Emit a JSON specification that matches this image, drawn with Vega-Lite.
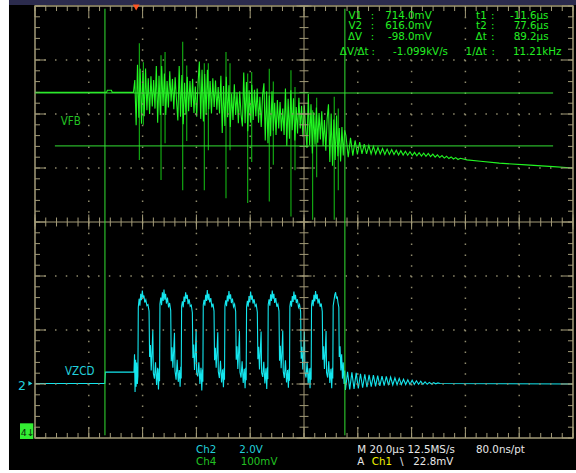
{
"$schema":"https://vega.github.io/schema/vega-lite/v6.json",
"width":538,"height":432,
"autosize":{"type":"none"},
"padding":{"left":35,"top":6,"right":3,"bottom":35},
"background":"#ffffff",
"config":{"view":{"stroke":null},"axis":{"disable":true}},
"datasets":{
"ch4":[{"t":-37.6,"v":2.40},{"t":-11.0,"v":2.40},{"t":-10.7,"v":2.44},{"t":-9.2,"v":2.44},{"t":-8.9,"v":2.40},{"t":-1.0,"v":2.40},
{"t":-0.5,"v":2.63},{"t":0.0,"v":1.79},{"t":0.5,"v":2.91},{"t":1.0,"v":1.93},{"t":1.5,"v":2.84},{"t":2.0,"v":1.82},{"t":2.5,"v":2.77},{"t":3.0,"v":1.96},{"t":3.5,"v":2.84},{"t":4.0,"v":2.07},{"t":4.5,"v":2.66},{"t":5.0,"v":2.00},{"t":5.5,"v":2.70},{"t":6.0,"v":2.14},{"t":6.5,"v":2.63},{"t":7.0,"v":2.10},
{"t":7.5,"v":2.89},{"t":8.0,"v":1.84},{"t":8.5,"v":2.71},{"t":9.0,"v":1.98},{"t":9.5,"v":2.89},{"t":10.0,"v":2.15},{"t":10.5,"v":2.75},{"t":11.0,"v":1.98},{"t":11.5,"v":2.61},{"t":12.0,"v":2.12},{"t":12.5,"v":2.79},{"t":13.0,"v":2.23},{"t":13.5,"v":2.65},{"t":14.0,"v":2.09},{"t":14.5,"v":2.68},{"t":15.0,"v":2.26},
{"t":15.5,"v":1.88},{"t":16.0,"v":2.89},{"t":16.5,"v":1.95},{"t":17.0,"v":2.72},{"t":17.5,"v":1.81},{"t":18.0,"v":2.58},{"t":18.5,"v":1.99},{"t":19.0,"v":2.69},{"t":19.5,"v":2.05},{"t":20.0,"v":2.61},{"t":20.5,"v":2.13},{"t":21.0,"v":2.65},{"t":21.5,"v":2.02},{"t":22.0,"v":2.51},{"t":22.5,"v":1.95},{"t":23.0,"v":2.55},
{"t":23.5,"v":2.97},{"t":24.0,"v":1.91},{"t":24.5,"v":2.82},{"t":25.0,"v":1.86},{"t":25.5,"v":2.74},{"t":26.0,"v":1.99},{"t":26.5,"v":2.82},{"t":27.0,"v":2.09},{"t":27.5,"v":2.61},{"t":28.0,"v":2.01},{"t":28.5,"v":2.66},{"t":29.0,"v":2.13},{"t":29.5,"v":2.62},{"t":30.0,"v":2.08},{"t":30.5,"v":2.50},{"t":31.0,"v":2.01},
{"t":31.5,"v":2.71},{"t":32.0,"v":1.65},{"t":32.5,"v":2.52},{"t":33.0,"v":1.78},{"t":33.5,"v":2.69},{"t":34.0,"v":1.94},{"t":34.5,"v":2.53},{"t":35.0,"v":1.76},{"t":35.5,"v":2.38},{"t":36.0,"v":1.89},{"t":36.5,"v":2.55},{"t":37.0,"v":1.98},{"t":37.5,"v":2.40},{"t":38.0,"v":1.83},{"t":38.5,"v":2.42},{"t":39.0,"v":1.99},
{"t":39.5,"v":1.77},{"t":40.0,"v":2.77},{"t":40.5,"v":1.83},{"t":41.0,"v":2.59},{"t":41.5,"v":1.68},{"t":42.0,"v":2.44},{"t":42.5,"v":1.84},{"t":43.0,"v":2.54},{"t":43.5,"v":1.89},{"t":44.0,"v":2.45},{"t":44.5,"v":1.96},{"t":45.0,"v":2.47},{"t":45.5,"v":1.84},{"t":46.0,"v":2.32},{"t":46.5,"v":1.76},{"t":47.0,"v":2.35},
{"t":47.5,"v":2.57},{"t":48.0,"v":1.51},{"t":48.5,"v":2.42},{"t":49.0,"v":1.46},{"t":49.5,"v":2.34},{"t":50.0,"v":1.59},{"t":50.5,"v":2.42},{"t":51.0,"v":1.69},{"t":51.5,"v":2.21},{"t":52.0,"v":1.61},{"t":52.5,"v":2.26},{"t":53.0,"v":1.73},{"t":53.5,"v":2.22},{"t":54.0,"v":1.68},{"t":54.5,"v":2.10},{"t":55.0,"v":1.61},
{"t":55.5,"v":2.47},{"t":56.0,"v":1.41},{"t":56.5,"v":2.28},{"t":57.0,"v":1.54},{"t":57.5,"v":2.44},{"t":58.0,"v":1.70},{"t":58.5,"v":2.29},{"t":59.0,"v":1.51},{"t":59.5,"v":2.13},{"t":60.0,"v":1.64},{"t":60.5,"v":2.30},{"t":61.0,"v":1.73},{"t":61.5,"v":2.15},{"t":62.0,"v":1.58},{"t":62.5,"v":2.16},{"t":63.0,"v":1.74},
{"t":63.5,"v":1.37},{"t":64.0,"v":2.37},{"t":64.5,"v":1.42},{"t":65.0,"v":2.18},{"t":65.5,"v":1.27},{"t":66.0,"v":2.03},{"t":66.5,"v":1.43},{"t":67.0,"v":2.12},{"t":67.5,"v":1.47},{"t":68.0,"v":2.02},{"t":68.5,"v":1.53},{"t":69.0,"v":2.05},{"t":69.5,"v":1.41},{"t":70.0,"v":1.89},{"t":70.5,"v":1.32},{"t":71.0,"v":1.91},
{"t":71.5,"v":2.18},{"t":72.0,"v":1.11},{"t":72.5,"v":2.01},{"t":73.0,"v":1.04},{"t":73.5,"v":1.90},{"t":74.0,"v":1.15},{"t":74.5,"v":1.97},{"t":75.0,"v":1.22},{"t":75.5,"v":1.74},{"t":76.0,"v":1.12},{"t":76.5,"v":1.76},{"t":77.0,"v":1.23},{"t":77.5,"v":1.70},
{"t":78.0,"v":1.60},{"t":78.85,"v":1.20},{"t":79.7,"v":1.56},{"t":80.55,"v":1.23},{"t":81.4,"v":1.51},{"t":82.25,"v":1.25},{"t":83.1,"v":1.48},{"t":83.95,"v":1.26},{"t":84.8,"v":1.44},{"t":85.65,"v":1.26},{"t":86.5,"v":1.42},{"t":87.35,"v":1.26},{"t":88.2,"v":1.40},{"t":89.05,"v":1.26},{"t":89.9,"v":1.38},{"t":90.75,"v":1.26},{"t":91.6,"v":1.36},{"t":92.45,"v":1.25},{"t":93.3,"v":1.35},{"t":94.15,"v":1.25},{"t":95.0,"v":1.34},{"t":95.85,"v":1.25},{"t":96.7,"v":1.33},{"t":97.55,"v":1.24},{"t":98.4,"v":1.32},{"t":99.25,"v":1.24},{"t":100.1,"v":1.31},{"t":100.95,"v":1.235},{"t":101.8,"v":1.30},{"t":102.65,"v":1.23},{"t":103.5,"v":1.29},{"t":104.35,"v":1.227},{"t":105.2,"v":1.285},{"t":106.05,"v":1.222},{"t":106.9,"v":1.276},{"t":107.75,"v":1.217},{"t":108.6,"v":1.269},{"t":109.45,"v":1.211},{"t":110.3,"v":1.257},{"t":111.15,"v":1.202},{"t":112.0,"v":1.244},{"t":112.85,"v":1.193},{"t":113.7,"v":1.231},{"t":114.55,"v":1.184},{"t":115.4,"v":1.218},{"t":116.25,"v":1.175},{"t":117.1,"v":1.205},{"t":117.95,"v":1.167},{"t":118.8,"v":1.192},{"t":119.65,"v":1.157},{"t":120.5,"v":1.179},
{"t":123,"v":1.150},{"t":128,"v":1.124},{"t":135,"v":1.090},{"t":145,"v":1.057},{"t":155,"v":1.025},{"t":162.4,"v":1.000}],
"ch2":[{"t":-37.6,"v":-2.99},{"t":-11.65,"v":-2.99},{"t":-11.45,"v":-2.78},{"t":-0.8,"v":-2.78},{"t":-0.6,"v":-2.45},{"t":-0.4,"v":-3.15},{"t":-0.2,"v":-2.55},{"t":0.0,"v":-3.05},{"t":0.2,"v":-2.60},{"t":0.45,"v":-3.00},{"t":0.65,"v":-2.85},
{"t":0.80,"v":-1.58},{"t":1.10,"v":-1.42},{"t":1.40,"v":-1.55},{"t":1.70,"v":-1.33},{"t":2.00,"v":-1.45},{"t":2.30,"v":-1.27},{"t":2.60,"v":-1.41},{"t":2.90,"v":-1.36},{"t":3.20,"v":-1.49},{"t":3.60,"v":-1.44},{"t":4.00,"v":-1.55},{"t":4.40,"v":-1.53},{"t":4.80,"v":-1.65},{"t":5.00,"v":-2.50},{"t":5.30,"v":-2.28},{"t":5.60,"v":-2.75},{"t":5.90,"v":-2.42},{"t":6.20,"v":-2.00},{"t":6.40,"v":-2.80},{"t":6.80,"v":-2.90},{"t":7.20,"v":-2.60},{"t":7.60,"v":-3.02},{"t":8.00,"v":-2.70},{"t":8.30,"v":-3.10},{"t":8.55,"v":-2.72},
{"t":8.70,"v":-2.95},{"t":8.85,"v":-1.52},{"t":9.15,"v":-1.40},{"t":9.45,"v":-1.54},{"t":9.75,"v":-1.30},{"t":10.05,"v":-1.46},{"t":10.35,"v":-1.25},{"t":10.65,"v":-1.44},{"t":10.95,"v":-1.33},{"t":11.25,"v":-1.51},{"t":11.65,"v":-1.40},{"t":12.05,"v":-1.58},{"t":12.45,"v":-1.50},{"t":12.85,"v":-1.64},{"t":13.05,"v":-2.58},{"t":13.35,"v":-2.32},{"t":13.65,"v":-2.70},{"t":13.95,"v":-2.38},{"t":14.25,"v":-2.05},{"t":14.45,"v":-2.76},{"t":14.85,"v":-2.92},{"t":15.25,"v":-2.55},{"t":15.65,"v":-2.96},{"t":16.05,"v":-2.74},{"t":16.35,"v":-3.05},{"t":16.60,"v":-2.68},
{"t":16.75,"v":-2.90},{"t":16.90,"v":-1.56},{"t":17.20,"v":-1.47},{"t":17.50,"v":-1.58},{"t":17.80,"v":-1.38},{"t":18.10,"v":-1.48},{"t":18.40,"v":-1.30},{"t":18.70,"v":-1.42},{"t":19.00,"v":-1.35},{"t":19.30,"v":-1.52},{"t":19.70,"v":-1.43},{"t":20.10,"v":-1.56},{"t":20.50,"v":-1.54},{"t":20.90,"v":-1.68},{"t":21.10,"v":-2.52},{"t":21.40,"v":-2.27},{"t":21.70,"v":-2.74},{"t":22.00,"v":-2.43},{"t":22.30,"v":-1.98},{"t":22.50,"v":-2.80},{"t":22.90,"v":-2.86},{"t":23.30,"v":-2.60},{"t":23.70,"v":-3.00},{"t":24.10,"v":-2.70},{"t":24.40,"v":-3.12},{"t":24.65,"v":-2.73},
{"t":24.80,"v":-2.96},{"t":24.95,"v":-1.54},{"t":25.25,"v":-1.44},{"t":25.55,"v":-1.55},{"t":25.85,"v":-1.35},{"t":26.15,"v":-1.46},{"t":26.45,"v":-1.26},{"t":26.75,"v":-1.45},{"t":27.05,"v":-1.33},{"t":27.35,"v":-1.49},{"t":27.75,"v":-1.41},{"t":28.15,"v":-1.58},{"t":28.55,"v":-1.51},{"t":28.95,"v":-1.65},{"t":29.15,"v":-2.56},{"t":29.45,"v":-2.33},{"t":29.75,"v":-2.70},{"t":30.05,"v":-2.41},{"t":30.35,"v":-2.04},{"t":30.55,"v":-2.77},{"t":30.95,"v":-2.89},{"t":31.35,"v":-2.57},{"t":31.75,"v":-2.97},{"t":32.15,"v":-2.73},{"t":32.45,"v":-3.06},{"t":32.70,"v":-2.71},
{"t":32.85,"v":-2.92},{"t":33.00,"v":-1.55},{"t":33.30,"v":-1.45},{"t":33.60,"v":-1.56},{"t":33.90,"v":-1.36},{"t":34.20,"v":-1.47},{"t":34.50,"v":-1.28},{"t":34.80,"v":-1.43},{"t":35.10,"v":-1.34},{"t":35.40,"v":-1.50},{"t":35.80,"v":-1.42},{"t":36.20,"v":-1.57},{"t":36.60,"v":-1.52},{"t":37.00,"v":-1.66},{"t":37.20,"v":-2.55},{"t":37.50,"v":-2.30},{"t":37.80,"v":-2.72},{"t":38.10,"v":-2.40},{"t":38.40,"v":-2.02},{"t":38.60,"v":-2.78},{"t":39.00,"v":-2.88},{"t":39.40,"v":-2.58},{"t":39.80,"v":-2.98},{"t":40.20,"v":-2.72},{"t":40.50,"v":-3.08},{"t":40.75,"v":-2.70},
{"t":40.90,"v":-2.93},{"t":41.05,"v":-1.57},{"t":41.35,"v":-1.46},{"t":41.65,"v":-1.57},{"t":41.95,"v":-1.37},{"t":42.25,"v":-1.49},{"t":42.55,"v":-1.29},{"t":42.85,"v":-1.44},{"t":43.15,"v":-1.36},{"t":43.45,"v":-1.51},{"t":43.85,"v":-1.43},{"t":44.25,"v":-1.56},{"t":44.65,"v":-1.53},{"t":45.05,"v":-1.67},{"t":45.25,"v":-2.54},{"t":45.55,"v":-2.31},{"t":45.85,"v":-2.73},{"t":46.15,"v":-2.39},{"t":46.45,"v":-2.03},{"t":46.65,"v":-2.79},{"t":47.05,"v":-2.87},{"t":47.45,"v":-2.59},{"t":47.85,"v":-2.99},{"t":48.25,"v":-2.71},{"t":48.55,"v":-3.09},{"t":48.80,"v":-2.69},
{"t":48.95,"v":-2.91},{"t":49.10,"v":-1.53},{"t":49.40,"v":-1.43},{"t":49.70,"v":-1.55},{"t":50.00,"v":-1.34},{"t":50.30,"v":-1.46},{"t":50.60,"v":-1.27},{"t":50.90,"v":-1.42},{"t":51.20,"v":-1.33},{"t":51.50,"v":-1.50},{"t":51.90,"v":-1.41},{"t":52.30,"v":-1.57},{"t":52.70,"v":-1.52},{"t":53.10,"v":-1.65},{"t":53.30,"v":-2.57},{"t":53.60,"v":-2.29},{"t":53.90,"v":-2.71},{"t":54.20,"v":-2.42},{"t":54.50,"v":-2.01},{"t":54.70,"v":-2.77},{"t":55.10,"v":-2.89},{"t":55.50,"v":-2.56},{"t":55.90,"v":-2.97},{"t":56.30,"v":-2.74},{"t":56.60,"v":-3.07},{"t":56.85,"v":-2.72},
{"t":57.00,"v":-2.94},{"t":57.15,"v":-1.56},{"t":57.45,"v":-1.46},{"t":57.75,"v":-1.57},{"t":58.05,"v":-1.37},{"t":58.35,"v":-1.48},{"t":58.65,"v":-1.29},{"t":58.95,"v":-1.44},{"t":59.25,"v":-1.35},{"t":59.55,"v":-1.50},{"t":59.95,"v":-1.43},{"t":60.35,"v":-1.58},{"t":60.75,"v":-1.53},{"t":61.15,"v":-1.66},{"t":61.35,"v":-2.53},{"t":61.65,"v":-2.31},{"t":61.95,"v":-2.73},{"t":62.25,"v":-2.40},{"t":62.55,"v":-2.03},{"t":62.75,"v":-2.78},{"t":63.15,"v":-2.88},{"t":63.55,"v":-2.59},{"t":63.95,"v":-2.99},{"t":64.35,"v":-2.71},{"t":64.65,"v":-3.08},{"t":64.90,"v":-2.70},
{"t":65.05,"v":-2.92},{"t":65.20,"v":-1.54},{"t":65.50,"v":-1.44},{"t":65.80,"v":-1.56},{"t":66.10,"v":-1.35},{"t":66.40,"v":-1.47},{"t":66.70,"v":-1.28},{"t":67.00,"v":-1.43},{"t":67.30,"v":-1.34},{"t":67.60,"v":-1.51},{"t":68.00,"v":-1.42},{"t":68.40,"v":-1.57},{"t":68.80,"v":-1.51},{"t":69.20,"v":-1.66},{"t":69.40,"v":-2.55},{"t":69.70,"v":-2.30},{"t":70.00,"v":-2.72},{"t":70.30,"v":-2.41},{"t":70.60,"v":-2.02},{"t":70.80,"v":-2.79},{"t":71.20,"v":-2.88},{"t":71.60,"v":-2.58},{"t":72.00,"v":-2.98},{"t":72.40,"v":-2.72},{"t":72.70,"v":-3.08},{"t":72.95,"v":-2.70},
{"t":73.10,"v":-2.90},{"t":73.25,"v":-1.55},{"t":73.55,"v":-1.45},{"t":73.85,"v":-1.35},{"t":74.15,"v":-1.30},{"t":74.45,"v":-1.42},{"t":74.75,"v":-1.38},{"t":75.05,"v":-1.50},{"t":75.35,"v":-1.58},{"t":75.50,"v":-2.50},{"t":75.80,"v":-2.30},{"t":76.10,"v":-2.75},{"t":76.40,"v":-2.45},{"t":76.70,"v":-2.90},{"t":77.00,"v":-2.60},{"t":77.30,"v":-3.00},{"t":77.55,"v":-2.75},
{"t":77.8,"v":-3.11},{"t":78.6,"v":-2.775},{"t":79.4,"v":-3.10},{"t":80.2,"v":-2.785},{"t":81.0,"v":-3.09},{"t":81.8,"v":-2.795},{"t":82.6,"v":-3.08},{"t":83.4,"v":-2.81},{"t":84.2,"v":-3.07},{"t":85.0,"v":-2.82},{"t":85.8,"v":-3.06},{"t":86.6,"v":-2.83},{"t":87.4,"v":-3.05},{"t":88.2,"v":-2.835},{"t":89.0,"v":-3.043},{"t":89.8,"v":-2.843},{"t":90.6,"v":-3.035},{"t":91.4,"v":-2.852},{"t":92.2,"v":-3.03},{"t":93.0,"v":-2.861},{"t":93.8,"v":-3.023},{"t":94.6,"v":-2.873},{"t":95.4,"v":-3.018},{"t":96.2,"v":-2.885},{"t":97.0,"v":-3.014},{"t":97.8,"v":-2.896},{"t":98.6,"v":-3.01},{"t":99.4,"v":-2.912},{"t":100.2,"v":-3.01},{"t":101.0,"v":-2.922},{"t":101.8,"v":-3.008},{"t":102.6,"v":-2.93},{"t":103.4,"v":-3.006},{"t":104.2,"v":-2.94},{"t":105.0,"v":-3.005},{"t":105.8,"v":-2.95},{"t":106.6,"v":-3.005},{"t":107.4,"v":-2.96},{"t":108.2,"v":-3.005},{"t":109.0,"v":-2.97},{"t":109.8,"v":-3.0},{"t":110.6,"v":-2.975},{"t":111.4,"v":-2.997},{"t":112.2,"v":-2.98},{"t":113.0,"v":-2.99},{"t":162.4,"v":-3.0}],
"spk":[{"t":1.2,"lo":1.15,"hi":3.31},{"t":9.25,"lo":0.78,"hi":3.09},{"t":17.3,"lo":0.59,"hi":3.34},{"t":25.35,"lo":0.59,"hi":2.94},{"t":33.4,"lo":0.44,"hi":3.15},{"t":41.45,"lo":0.35,"hi":2.75},{"t":49.5,"lo":0.38,"hi":2.84},{"t":57.55,"lo":0.10,"hi":2.81},{"t":65.6,"lo":0.04,"hi":2.07},{"t":73.65,"lo":0.04,"hi":2.32},
{"t":2.7,"lo":1.80,"hi":2.96},{"t":10.75,"lo":1.46,"hi":3.15},{"t":18.8,"lo":1.50,"hi":2.90},{"t":26.85,"lo":1.33,"hi":2.94},{"t":34.9,"lo":1.33,"hi":2.94},{"t":42.95,"lo":1.11,"hi":2.78},{"t":51.0,"lo":1.06,"hi":2.60},{"t":59.05,"lo":0.96,"hi":2.50},{"t":67.1,"lo":0.83,"hi":2.30},{"t":75.15,"lo":0.59,"hi":2.10}],
"curs":[{"t1":-37.6,"t2":155.0,"v1":2.389,"v2":2.389},{"t1":-30.2,"t2":155.0,"v1":1.409,"v2":1.409},{"t1":-11.6,"t2":-11.6,"v1":3.95,"v2":-3.95},{"t1":77.6,"t2":77.6,"v1":3.95,"v2":-3.95}],
"xmin":[{"t":-37.6},{"t":-33.6},{"t":-29.6},{"t":-25.6},{"t":-21.6},{"t":-17.6},{"t":-13.6},{"t":-9.6},{"t":-5.6},{"t":-1.6},{"t":2.4},{"t":6.4},{"t":10.4},{"t":14.4},{"t":18.4},{"t":22.4},{"t":26.4},{"t":30.4},{"t":34.4},{"t":38.4},{"t":42.4},{"t":46.4},{"t":50.4},{"t":54.4},{"t":58.4},{"t":62.4},{"t":66.4},{"t":70.4},{"t":74.4},{"t":78.4},{"t":82.4},{"t":86.4},{"t":90.4},{"t":94.4},{"t":98.4},{"t":102.4},{"t":106.4},{"t":110.4},{"t":114.4},{"t":118.4},{"t":122.4},{"t":126.4},{"t":130.4},{"t":134.4},{"t":138.4},{"t":142.4},{"t":146.4},{"t":150.4},{"t":154.4},{"t":158.4},{"t":162.4}],
"xmaj":[{"t":-37.6},{"t":-17.6},{"t":2.4},{"t":22.4},{"t":42.4},{"t":62.4},{"t":82.4},{"t":102.4},{"t":122.4},{"t":142.4},{"t":162.4}],
"xgrd":[{"t":-17.6},{"t":2.4},{"t":22.4},{"t":42.4},{"t":82.4},{"t":102.4},{"t":122.4},{"t":142.4}],
"ymin":[{"v":-4},{"v":-3.8},{"v":-3.6},{"v":-3.4},{"v":-3.2},{"v":-3},{"v":-2.8},{"v":-2.6},{"v":-2.4},{"v":-2.2},{"v":-2},{"v":-1.8},{"v":-1.6},{"v":-1.4},{"v":-1.2},{"v":-1},{"v":-0.8},{"v":-0.6},{"v":-0.4},{"v":-0.2},{"v":0},{"v":0.2},{"v":0.4},{"v":0.6},{"v":0.8},{"v":1},{"v":1.2},{"v":1.4},{"v":1.6},{"v":1.8},{"v":2},{"v":2.2},{"v":2.4},{"v":2.6},{"v":2.8},{"v":3},{"v":3.2},{"v":3.4},{"v":3.6},{"v":3.8},{"v":4}],
"ymaj":[{"v":-4},{"v":-3},{"v":-2},{"v":-1},{"v":0},{"v":1},{"v":2},{"v":3},{"v":4}],
"ygrd":[{"v":-3},{"v":-2},{"v":-1},{"v":1},{"v":2},{"v":3}],
"readR":[{"t":83.96,"v":3.759,"s":"V1"},{"t":83.96,"v":3.569,"s":"V2"},{"t":83.96,"v":3.376,"s":"ΔV"},{"t":86.38,"v":3.098,"s":"ΔV/Δt"},
{"t":109.87,"v":3.759,"s":"714.0mV"},{"t":109.87,"v":3.569,"s":"616.0mV"},{"t":109.87,"v":3.376,"s":"-98.0mV"},{"t":115.93,"v":3.098,"s":"-1.099kV/s"},
{"t":130.32,"v":3.759,"s":"t1"},{"t":130.32,"v":3.569,"s":"t2"},{"t":130.32,"v":3.376,"s":"Δt"},{"t":130.32,"v":3.098,"s":"1/Δt"},
{"t":153.29,"v":3.759,"s":"-11.6µs"},{"t":153.29,"v":3.569,"s":"77.6µs"},{"t":153.29,"v":3.376,"s":"89.2µs"},{"t":158.12,"v":3.098,"s":"11.21kHz"}],
"colon":[{"t":87.86,"v":3.759},{"t":87.86,"v":3.569},{"t":87.86,"v":3.376},{"t":88.16,"v":3.098},{"t":132.55,"v":3.759},{"t":132.55,"v":3.569},{"t":132.55,"v":3.376},{"t":132.77,"v":3.098}],
"txt":[{"t":22.25,"v":-4.278,"s":"Ch2","c":"ch2"},{"t":38.35,"v":-4.278,"s":"2.0V","c":"ch2"},{"t":22.25,"v":-4.506,"s":"Ch4","c":"ch4"},{"t":38.87,"v":-4.506,"s":"100mV","c":"ch4"},{"t":82.21,"v":-4.278,"s":"M 20.0µs 12.5MS/s","c":"sys"},{"t":126.34,"v":-4.278,"s":"80.0ns/pt","c":"sys"},{"t":82.21,"v":-4.506,"s":"A","c":"sys"},{"t":87.57,"v":-4.506,"s":"Ch1","c":"trig"},{"t":98.09,"v":-4.506,"s":"\\","c":"sys"},{"t":103.03,"v":-4.506,"s":"22.8mV","c":"sys"}],
"lbl":[{"t":-28.05,"v":1.796,"s":"VFB","c":"ch4"},{"t":-26.45,"v":-2.833,"s":"VZCD","c":"ch2"}]
},
"layer":[
{"data":{"values":[{}]},"mark":{"type":"rect","color":"#000000"},"encoding":{"x":{"datum":-47.27,"type":"quantitative","scale":{"domain":[-37.6,162.4],"nice":false,"zero":false}},"x2":{"datum":163.52},"y":{"datum":-4.593,"type":"quantitative","scale":{"domain":[-4,4],"nice":false,"zero":false}},"y2":{"datum":4.019}}},
{"data":{"values":[{}]},"mark":{"type":"rect","color":"#2b2b4d"},"encoding":{"x":{"datum":-47.27,"type":"quantitative"},"x2":{"datum":163.52},"y":{"datum":4.019,"type":"quantitative"},"y2":{"datum":4.111}}},
{"data":{"name":"spk"},"mark":{"type":"rule","color":"#12a612","strokeWidth":1.2},"encoding":{"x":{"field":"t","type":"quantitative"},"y":{"field":"lo","type":"quantitative"},"y2":{"field":"hi"}}},
{"data":{"name":"ch4"},"mark":{"type":"line","color":"#22f522","strokeWidth":1.1},"encoding":{"x":{"field":"t","type":"quantitative"},"y":{"field":"v","type":"quantitative"}}},
{"data":{"name":"ch2"},"mark":{"type":"line","color":"#14e6ee","strokeWidth":1.1},"encoding":{"x":{"field":"t","type":"quantitative"},"y":{"field":"v","type":"quantitative"}}},
{"data":{"name":"xgrd"},"mark":{"type":"rule","color":"#8f8a6c","strokeWidth":1.5,"strokeDash":[1.5,9.3]},"encoding":{"x":{"field":"t","type":"quantitative"}}},
{"data":{"name":"ygrd"},"mark":{"type":"rule","color":"#8f8a6c","strokeWidth":1.5,"strokeDash":[1.5,9.26]},"encoding":{"y":{"field":"v","type":"quantitative"}}},
{"data":{"values":[{}]},"mark":{"type":"rule","color":"#a39b78"},"encoding":{"x":{"datum":62.4,"type":"quantitative"}}},
{"data":{"values":[{}]},"mark":{"type":"rule","color":"#a39b78"},"encoding":{"y":{"datum":0,"type":"quantitative"}}},
{"data":{"values":[{}]},"mark":{"type":"rect","filled":false,"color":"#a39b78","strokeWidth":1.5},"encoding":{"x":{"datum":-37.6,"type":"quantitative"},"x2":{"datum":162.4},"y":{"datum":-4,"type":"quantitative"},"y2":{"datum":4}}},
{"data":{"name":"xmin"},"mark":{"type":"rule","color":"#a39b78"},"encoding":{"x":{"field":"t","type":"quantitative"},"y":{"datum":4,"type":"quantitative"},"y2":{"datum":3.907}}},
{"data":{"name":"xmaj"},"mark":{"type":"rule","color":"#a39b78"},"encoding":{"x":{"field":"t","type":"quantitative"},"y":{"datum":4,"type":"quantitative"},"y2":{"datum":3.796}}},
{"data":{"name":"xmin"},"mark":{"type":"rule","color":"#a39b78"},"encoding":{"x":{"field":"t","type":"quantitative"},"y":{"datum":-4,"type":"quantitative"},"y2":{"datum":-3.907}}},
{"data":{"name":"xmaj"},"mark":{"type":"rule","color":"#a39b78"},"encoding":{"x":{"field":"t","type":"quantitative"},"y":{"datum":-4,"type":"quantitative"},"y2":{"datum":-3.796}}},
{"data":{"name":"ymin"},"mark":{"type":"rule","color":"#a39b78"},"encoding":{"y":{"field":"v","type":"quantitative"},"x":{"datum":-37.6,"type":"quantitative"},"x2":{"datum":-35.74}}},
{"data":{"name":"ymaj"},"mark":{"type":"rule","color":"#a39b78"},"encoding":{"y":{"field":"v","type":"quantitative"},"x":{"datum":-37.6,"type":"quantitative"},"x2":{"datum":-33.51}}},
{"data":{"name":"ymin"},"mark":{"type":"rule","color":"#a39b78"},"encoding":{"y":{"field":"v","type":"quantitative"},"x":{"datum":162.4,"type":"quantitative"},"x2":{"datum":160.54}}},
{"data":{"name":"ymaj"},"mark":{"type":"rule","color":"#a39b78"},"encoding":{"y":{"field":"v","type":"quantitative"},"x":{"datum":162.4,"type":"quantitative"},"x2":{"datum":158.31}}},
{"data":{"name":"xmin"},"mark":{"type":"rule","color":"#a39b78"},"encoding":{"x":{"field":"t","type":"quantitative"},"y":{"datum":0.083,"type":"quantitative"},"y2":{"datum":-0.083}}},
{"data":{"name":"xmaj"},"mark":{"type":"rule","color":"#a39b78"},"encoding":{"x":{"field":"t","type":"quantitative"},"y":{"datum":0.139,"type":"quantitative"},"y2":{"datum":-0.139}}},
{"data":{"name":"ymin"},"mark":{"type":"rule","color":"#a39b78"},"encoding":{"y":{"field":"v","type":"quantitative"},"x":{"datum":60.73,"type":"quantitative"},"x2":{"datum":64.07}}},
{"data":{"name":"ymaj"},"mark":{"type":"rule","color":"#a39b78"},"encoding":{"y":{"field":"v","type":"quantitative"},"x":{"datum":59.61,"type":"quantitative"},"x2":{"datum":65.19}}},
{"data":{"name":"curs"},"mark":{"type":"rule","color":"#33e033","strokeWidth":1},"encoding":{"x":{"field":"t1","type":"quantitative"},"x2":{"field":"t2"},"y":{"field":"v1","type":"quantitative"},"y2":{"field":"v2"}}},
{"data":{"name":"readR"},"mark":{"type":"text","align":"right","baseline":"alphabetic","font":"DejaVu Sans","fontSize":10.3,"color":"#22ee22"},"encoding":{"x":{"field":"t","type":"quantitative"},"y":{"field":"v","type":"quantitative"},"text":{"field":"s"}}},
{"data":{"name":"colon"},"mark":{"type":"text","align":"center","baseline":"alphabetic","font":"DejaVu Sans","fontSize":10.3,"color":"#22ee22"},"encoding":{"x":{"field":"t","type":"quantitative"},"y":{"field":"v","type":"quantitative"},"text":{"value":":"}}},
{"data":{"name":"txt"},"mark":{"type":"text","align":"left","baseline":"alphabetic","font":"DejaVu Sans","fontSize":10.3},"encoding":{"x":{"field":"t","type":"quantitative"},"y":{"field":"v","type":"quantitative"},"text":{"field":"s"},"color":{"field":"c","type":"nominal","scale":{"domain":["ch2","ch4","sys","trig"],"range":["#22d0dc","#22c022","#e8e8e8","#f0f000"]},"legend":null}}},
{"data":{"name":"lbl"},"mark":{"type":"text","align":"left","baseline":"alphabetic","font":"DejaVu Sans Condensed, Liberation Sans Narrow, Liberation Sans","fontSize":11.5},"encoding":{"x":{"field":"t","type":"quantitative"},"y":{"field":"v","type":"quantitative"},"text":{"field":"s"},"color":{"field":"c","type":"nominal","legend":null}}},
{"data":{"values":[{}]},"mark":{"type":"text","align":"left","baseline":"alphabetic","font":"DejaVu Sans","fontSize":12.5,"color":"#22d0dc"},"encoding":{"x":{"datum":-43.92,"type":"quantitative"},"y":{"datum":-3.111,"type":"quantitative"},"text":{"value":"2"}}},
{"data":{"values":[{}]},"mark":{"type":"point","shape":"triangle-down","filled":true,"size":45,"color":"#ff5522","opacity":1},"encoding":{"x":{"datum":0,"type":"quantitative"},"y":{"datum":3.972,"type":"quantitative"}}},
{"data":{"values":[{}]},"mark":{"type":"point","shape":"triangle-right","filled":true,"size":22,"color":"#22d0dc","opacity":1},"encoding":{"x":{"datum":-39.3,"type":"quantitative"},"y":{"datum":-2.99,"type":"quantitative"}}},
{"data":{"values":[{}]},"mark":{"type":"rect","color":"#33ee33"},"encoding":{"x":{"datum":-43.18,"type":"quantitative"},"x2":{"datum":-38.23},"y":{"datum":-4.019,"type":"quantitative"},"y2":{"datum":-3.728}}},
{"data":{"values":[{}]},"mark":{"type":"text","align":"left","baseline":"alphabetic","font":"DejaVu Sans","fontSize":9.5,"color":"#0a2a0a"},"encoding":{"x":{"datum":-42.92,"type":"quantitative"},"y":{"datum":-3.972,"type":"quantitative"},"text":{"value":"4↓"}}}
]
}
